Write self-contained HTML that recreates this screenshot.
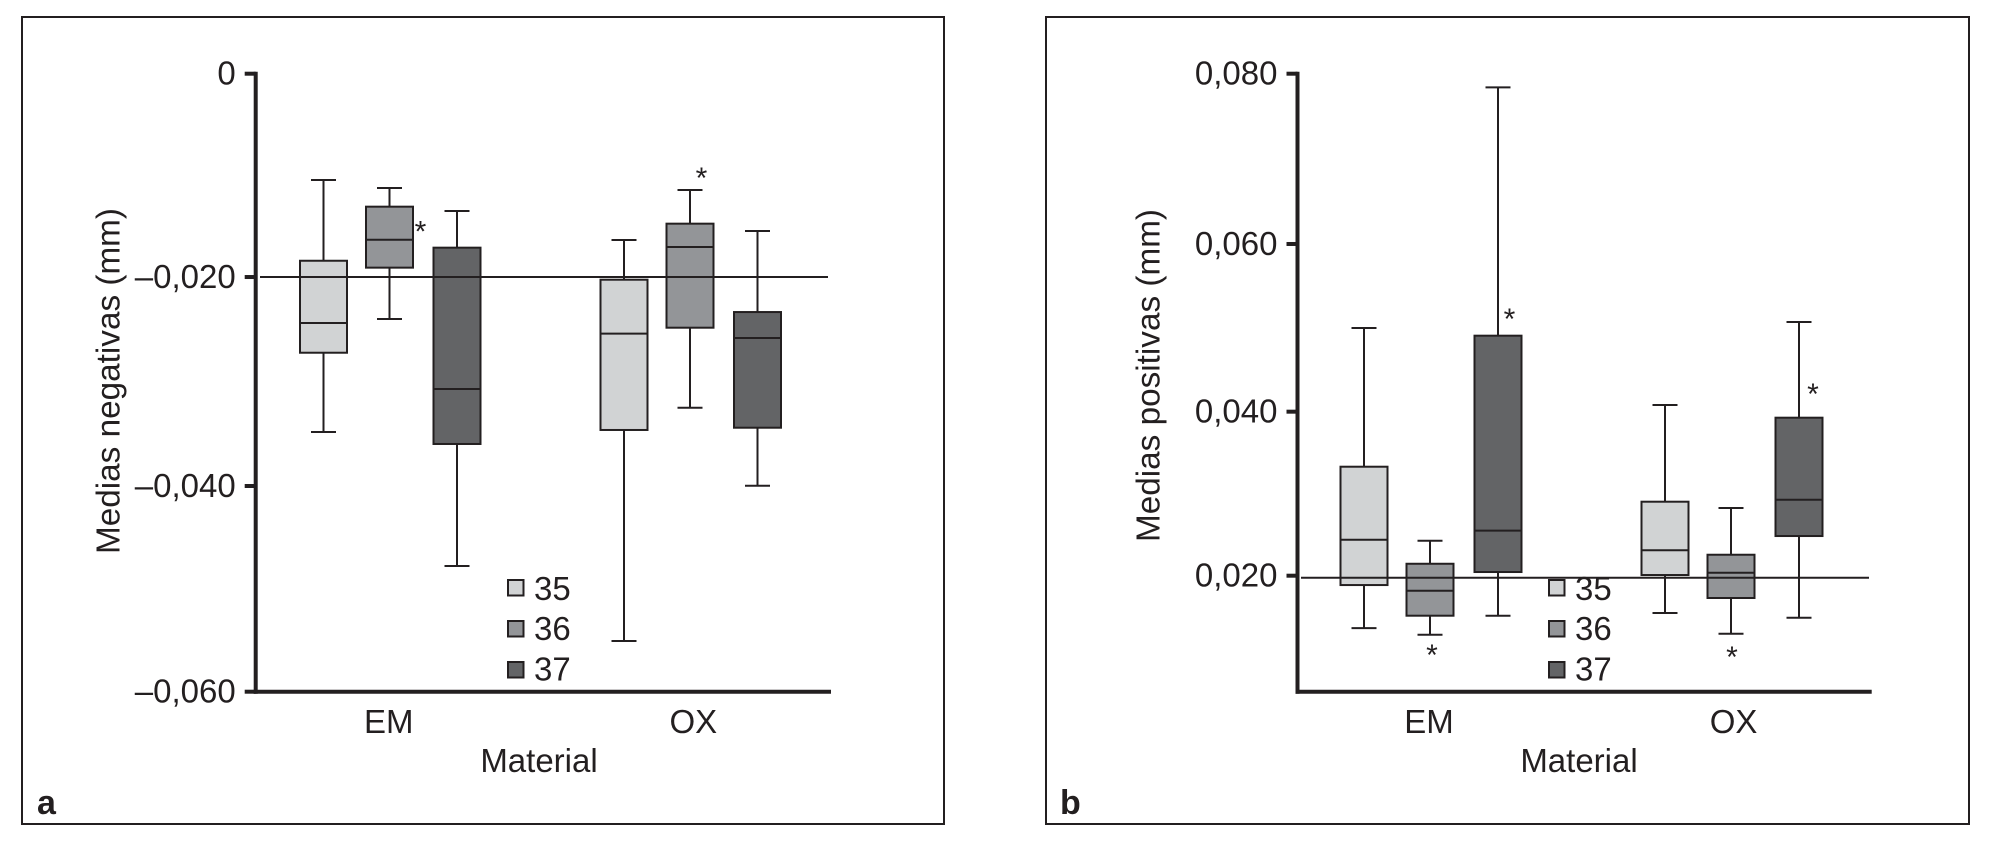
<!DOCTYPE html>
<html lang="es">
<head>
<meta charset="utf-8">
<title>Medias negativas y positivas por material</title>
<style>
html,body{margin:0;padding:0;background:#fff;}
svg{display:block;}
text{font-family:"Liberation Sans",Arial,sans-serif;fill:#231f20;}
</style>
</head>
<body>
<svg id="chart" xmlns="http://www.w3.org/2000/svg" width="1991" height="841" viewBox="0 0 1991 841">
  <rect x="0" y="0" width="1991" height="841" fill="#ffffff"/>
  <g id="panel-a">
    <rect x="22" y="17" width="922" height="807" fill="none" stroke="#231f20" stroke-width="2"/>
    <text x="37" y="814" font-size="34" font-weight="bold">a</text>
  </g>
  <g id="panel-b">
    <rect x="1046" y="17" width="923" height="807" fill="none" stroke="#231f20" stroke-width="2"/>
    <text x="1060" y="814" font-size="34" font-weight="bold">b</text>
  </g>
</svg>
<script>
// Shared categories and series
const categories = ['EM', 'OX'];
const seriesNames = ['35', '36', '37'];
const seriesFills = ['#d1d3d4', '#939598', '#636466'];

// Panel a values, order: EM-35, EM-36, EM-37, OX-35, OX-36, OX-37
const aHigh = [-0.01032, -0.01110, -0.01333, -0.01615, -0.01129, -0.01527];
const aQ3 = [-0.01816, -0.01291, -0.01689, -0.02000, -0.01456, -0.02314];
const aMedian = [-0.02420, -0.01612, -0.03061, -0.02524, -0.01683, -0.02566];
const aQ1 = [-0.02709, -0.01883, -0.03595, -0.03459, -0.02466, -0.03437];
const aLow = [-0.03479, -0.02382, -0.04780, -0.05508, -0.03243, -0.04000];
const aTickValues = [0, -0.01974, -0.04003, -0.06];
const aTickLabels = ['0', '\u20130,020', '\u20130,040', '\u20130,060'];
const aReference = -0.01974;
const aStarValues = [-0.01505, -0.00983];
const aStarBoxes = [1, 4];

// Panel b values, same order
const bHigh = [0.04955, 0.02408, 0.07836, 0.04033, 0.02799, 0.05027];
const bQ3 = [0.03294, 0.02132, 0.04863, 0.02875, 0.02240, 0.03881];
const bMedian = [0.02420, 0.01809, 0.02528, 0.02293, 0.02025, 0.02899];
const bQ1 = [0.01877, 0.01510, 0.02033, 0.01997, 0.01722, 0.02464];
const bLow = [0.01362, 0.01282, 0.01510, 0.01542, 0.01294, 0.01486];
const bTickValues = [0.08, 0.05961, 0.03953, 0.01989];
const bTickLabels = ['0,080', '0,060', '0,040', '0,020'];
const bReference = 0.01965;
const bStarValues = [0.01075, 0.05099, 0.01051, 0.04200];
const bStarBoxes = [1, 2, 4, 5];

const SVGNS = 'http://www.w3.org/2000/svg';
const INK = '#231f20';

function shape(parent, tag, attrs, content) {
  const el = document.createElementNS(SVGNS, tag);
  Object.keys(attrs).forEach(function (k) { el.setAttribute(k, attrs[k]); });
  if (content !== undefined) el.textContent = content;
  parent.appendChild(el);
  return el;
}

function drawPanel(cfg) {
  const root = document.getElementById(cfg.id);
  const yOf = function (v) {
    return cfg.yTop + (cfg.domainTop - v) / (cfg.domainTop - cfg.domainBottom) * (cfg.yBottom - cfg.yTop);
  };
  const xOf = function (catIndex, seriesIndex) {
    return cfg.groupStart + catIndex * cfg.groupStep + cfg.seriesOffset[seriesIndex];
  };
  const boxW = 47;
  const capW = 25;

  // Boxes
  cfg.median.forEach(function (m, i) {
    const cat = Math.floor(i / seriesNames.length);
    const ser = i % seriesNames.length;
    const cx = xOf(cat, ser);
    const label = cfg.id + '-box-' + categories[cat].toLowerCase() + '-' + seriesNames[ser];
    const g = shape(root, 'g', {});
    
    
    const stem = shape(g, 'line', { x1: cx, x2: cx, y1: yOf(cfg.high[i]), y2: yOf(cfg.low[i]), stroke: INK, 'stroke-width': 2 });
    
    
    const capTop = shape(g, 'line', { x1: cx - capW / 2, x2: cx + capW / 2, y1: yOf(cfg.high[i]), y2: yOf(cfg.high[i]), stroke: INK, 'stroke-width': 2 });
    
    
    const capBottom = shape(g, 'line', { x1: cx - capW / 2, x2: cx + capW / 2, y1: yOf(cfg.low[i]), y2: yOf(cfg.low[i]), stroke: INK, 'stroke-width': 2 });
    
    
    const body = shape(g, 'rect', { x: cx - boxW / 2, y: yOf(cfg.q3[i]), width: boxW, height: yOf(cfg.q1[i]) - yOf(cfg.q3[i]), fill: seriesFills[ser], stroke: INK, 'stroke-width': 2 });
    
    
    const med = shape(g, 'line', { x1: cx - boxW / 2, x2: cx + boxW / 2, y1: yOf(m), y2: yOf(m), stroke: INK, 'stroke-width': 2 });
    
    
  });

  // Significance stars
  cfg.starValues.forEach(function (v, i) {
    const b = cfg.starBoxes[i];
    const cat = Math.floor(b / seriesNames.length);
    const ser = b % seriesNames.length;
    const star = shape(root, 'text', { x: xOf(cat, ser) + cfg.starShift[i], y: yOf(v) + 13, 'font-size': 30, 'text-anchor': 'middle' }, '*');
    
    
  });

  // Reference line
  const ref = shape(root, 'line', { x1: cfg.refStart, x2: cfg.refEnd, y1: yOf(cfg.reference), y2: yOf(cfg.reference), stroke: INK, 'stroke-width': 2 });
  
  

  // Axes
  const yAxis = shape(root, 'line', { x1: cfg.axisX, x2: cfg.axisX, y1: cfg.yTop - 2, y2: cfg.yBottom + 2, stroke: INK, 'stroke-width': 4 });
  
  
  const xAxis = shape(root, 'line', { x1: cfg.axisX - 2, x2: cfg.axisEnd, y1: cfg.yBottom, y2: cfg.yBottom, stroke: INK, 'stroke-width': 4 });
  
  

  cfg.tickValues.forEach(function (v, i) {
    const y = yOf(v);
    const tick = shape(root, 'line', { x1: cfg.axisX - 11, x2: cfg.axisX, y1: y, y2: y, stroke: INK, 'stroke-width': 4 });
    
    
    const lab = shape(root, 'text', { x: cfg.axisX - 20, y: y + 11, 'font-size': 33, 'text-anchor': 'end' }, cfg.tickLabels[i]);
    
    
  });

  categories.forEach(function (c, i) {
    const lab = shape(root, 'text', { x: cfg.catLabelX[i], y: 733, 'font-size': 33, 'text-anchor': 'middle' }, c);
    
    
  });

  const xTitle = shape(root, 'text', { x: cfg.xTitleX, y: 772, 'font-size': 33, 'text-anchor': 'middle' }, 'Material');
  
  

  const yTitle = shape(root, 'text', { x: 0, y: 0, 'font-size': 33.3, 'text-anchor': 'middle', transform: 'translate(' + cfg.yTitleX + ' ' + cfg.yTitleY + ') rotate(-90)' }, cfg.yTitle);
  
  

  // Legend
  seriesNames.forEach(function (s, i) {
    const g = shape(root, 'g', {});
    
    
    const swatch = shape(g, 'rect', { x: cfg.legendX, y: 580 + i * 41, width: 15.5, height: 15.5, fill: seriesFills[i], stroke: INK, 'stroke-width': 2 });
    
    
    const t = shape(g, 'text', { x: cfg.legendX + 26, y: 600 + i * 40.2, 'font-size': 33 }, s);
    
    
  });
}

drawPanel({
  id: 'panel-a',
  high: aHigh, q3: aQ3, median: aMedian, q1: aQ1, low: aLow,
  tickValues: aTickValues, tickLabels: aTickLabels, reference: aReference,
  starValues: aStarValues, starBoxes: aStarBoxes, starShift: [31, 11.5],
  domainTop: 0, domainBottom: -0.06, yTop: 73.7, yBottom: 691.7,
  axisX: 255.7, axisEnd: 831, refStart: 260, refEnd: 828,
  groupStart: 389.5, groupStep: 300.5, seriesOffset: [-66, 0, 67.5],
  catLabelX: [388.7, 693.3], xTitleX: 539, yTitleX: 119.5, yTitleY: 381,
  yTitle: 'Medias negativas (mm)', legendX: 508
});

drawPanel({
  id: 'panel-b',
  high: bHigh, q3: bQ3, median: bMedian, q1: bQ1, low: bLow,
  tickValues: bTickValues, tickLabels: bTickLabels, reference: bReference,
  starValues: bStarValues, starBoxes: bStarBoxes, starShift: [2, 11.5, 1, 14],
  domainTop: 0.08, domainBottom: 0.006, yTop: 73.7, yBottom: 691.7,
  axisX: 1297.5, axisEnd: 1871.7, refStart: 1301, refEnd: 1869,
  groupStart: 1430, groupStep: 301, seriesOffset: [-66, 0, 68],
  catLabelX: [1429, 1733.6], xTitleX: 1579, yTitleX: 1159.5, yTitleY: 375.5,
  yTitle: 'Medias positivas (mm)', legendX: 1549
});
</script>
</body>
</html>
